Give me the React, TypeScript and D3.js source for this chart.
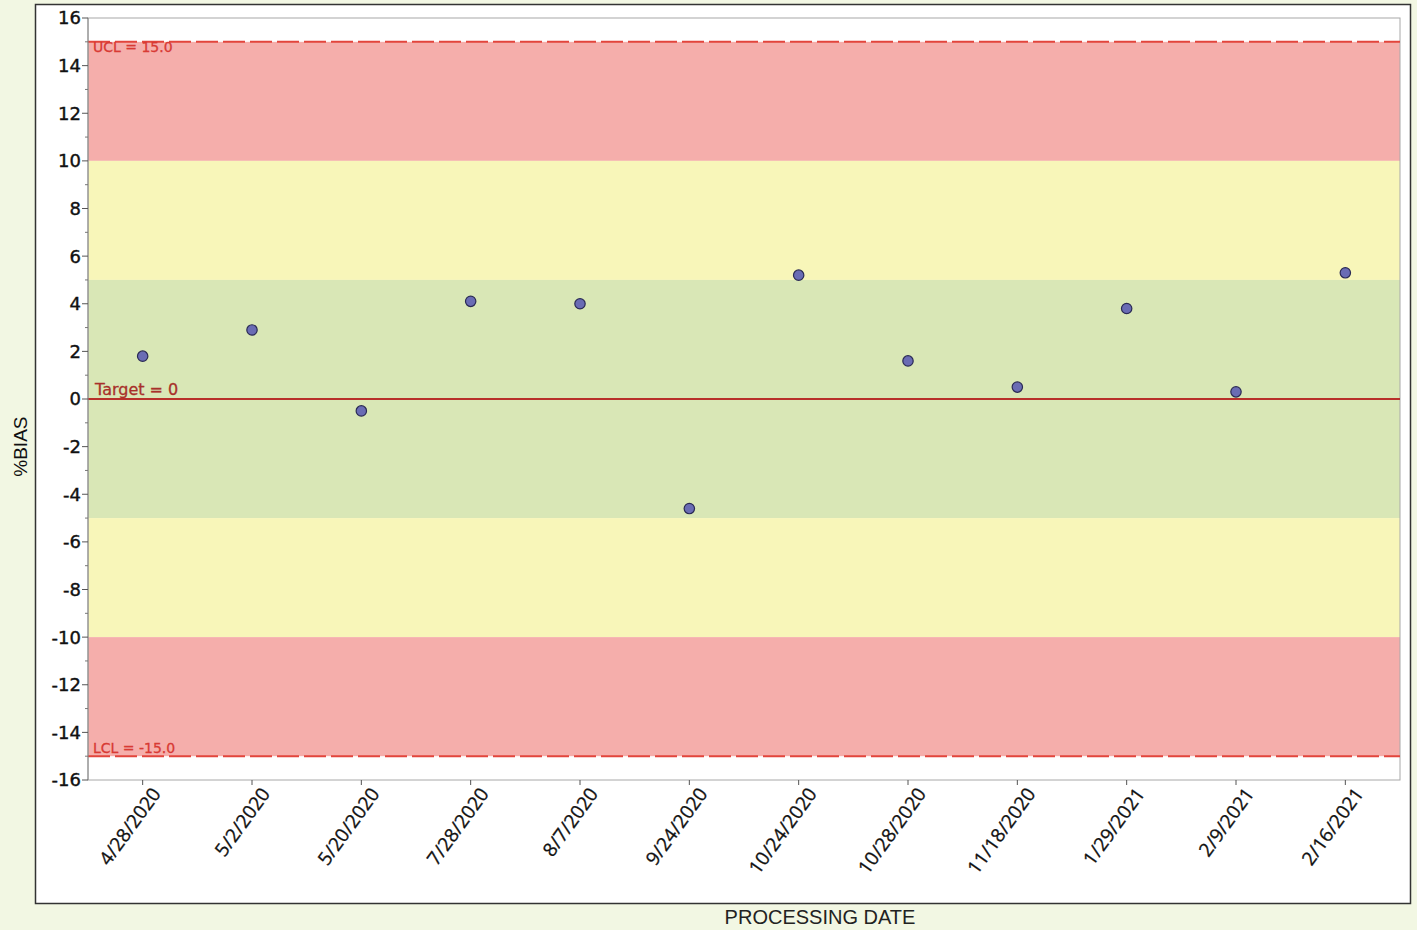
import React from "react";
import * as d3 from "d3";

const dates = ["4/28/2020","5/2/2020","5/20/2020","7/28/2020","8/7/2020","9/24/2020","10/24/2020","10/28/2020","11/18/2020","1/29/2021","2/9/2021","2/16/2021"];
const biasValues = [1.8, 2.9, -0.5, 4.1, 4.0, -4.6, 5.2, 1.6, 0.5, 3.8, 0.3, 5.3];
const yTicks = [16,14,12,10,8,6,4,2,0,-2,-4,-6,-8,-10,-12,-14,-16];
const minorTicks = [15,13,11,9,7,5,3,1,-1,-3,-5,-7,-9,-11,-13,-15];
const bands = [
  { from: 10, to: 15, color: "#f5aeab" },
  { from: 5, to: 10, color: "#f8f6b9" },
  { from: -5, to: 5, color: "#d9e7b6" },
  { from: -10, to: -5, color: "#f8f6b9" },
  { from: -15, to: -10, color: "#f5aeab" },
];
const UCL = 15, LCL = -15, TARGET = 0;

export default function App() {
  const W = 1417, H = 930;
  const left = 88, right = 1400, top = 18, bottom = 780;
  const x = d3.scalePoint<string>().domain(dates).range([left, right]).padding(0.5);
  const y = d3.scaleLinear().domain([-16, 16]).range([bottom, top]);
  const tickFont = "'DejaVu Sans', Verdana, sans-serif";
  return (
    <svg width={W} height={H} style={{ position: "absolute", left: 0, top: 0, display: "block" }}>
      <rect x={0} y={0} width={W} height={H} fill="#f2f7e3" />
      <rect x={35.5} y={4.5} width={1375} height={899} fill="#ffffff" stroke="#333" strokeWidth={1.5} />
      {bands.map((b, i) => (
        <rect key={i} x={left} y={y(b.to)} width={right - left} height={y(b.from) - y(b.to)} fill={b.color} />
      ))}
      <rect x={left} y={top} width={right - left} height={bottom - top} fill="none" stroke="#a8a8a8" strokeWidth={1} />
      <line x1={left} x2={right} y1={y(UCL)} y2={y(UCL)} stroke="#e2453c" strokeWidth={2} strokeDasharray="22,5" />
      <line x1={left} x2={right} y1={y(LCL)} y2={y(LCL)} stroke="#e2453c" strokeWidth={2} strokeDasharray="22,5" />
      <line x1={left} x2={right} y1={y(TARGET)} y2={y(TARGET)} stroke="#b8302a" strokeWidth={2} />
      <text x={93} y={y(UCL) + 10} fontSize={14} fill="#d83a34" fontFamily={tickFont} stroke="#d83a34" strokeWidth={0.3}>UCL = 15.0</text>
      <text x={93} y={y(LCL) - 3} fontSize={14} fill="#d83a34" fontFamily={tickFont} stroke="#d83a34" strokeWidth={0.3}>LCL = -15.0</text>
      <text x={95} y={y(TARGET) - 4} fontSize={16} fill="#a8302a" fontFamily={tickFont} stroke="#a8302a" strokeWidth={0.3}>Target = 0</text>
      {/* y axis */}
      <line x1={left} x2={left} y1={top} y2={bottom} stroke="#888" />
      {yTicks.map((t) => (
        <g key={t}>
          <line x1={left - 6} x2={left} y1={y(t)} y2={y(t)} stroke="#555" />
          <text x={left - 7} y={y(t)} dy="0.36em" textAnchor="end" fontSize={18} fontFamily={tickFont} fill="#111" stroke="#111" strokeWidth={0.4}>{t}</text>
        </g>
      ))}
      {minorTicks.map((t) => (
        <line key={t} x1={left - 3} x2={left} y1={y(t)} y2={y(t)} stroke="#777" />
      ))}
      {/* x axis */}
      {dates.map((d) => (
        <g key={d}>
          <line x1={x(d)} x2={x(d)} y1={bottom} y2={bottom + 5} stroke="#555" />
          <text transform={`translate(${(x(d) as number) + 19},${bottom + 14}) rotate(-54)`} textAnchor="end" fontSize={19} fontFamily="'Open Sans', Lato, sans-serif" fill="#111" stroke="#111" strokeWidth={0.3}>{d}</text>
        </g>
      ))}
      {dates.map((d, i) => (
        <circle key={d} cx={x(d)} cy={y(biasValues[i])} r={5.2} fill="#6a6cb4" stroke="#2a2a55" strokeWidth={1.2} />
      ))}
      <text transform={`translate(27,${y(-2)}) rotate(-90)`} textAnchor="middle" fontSize={19} fontFamily="'Liberation Sans', Arial, sans-serif" fill="#111">%BIAS</text>
      <text x={820} y={924} textAnchor="middle" fontSize={20} fontFamily="'Liberation Sans', Arial, sans-serif" fill="#222">PROCESSING DATE</text>
    </svg>
  );
}
